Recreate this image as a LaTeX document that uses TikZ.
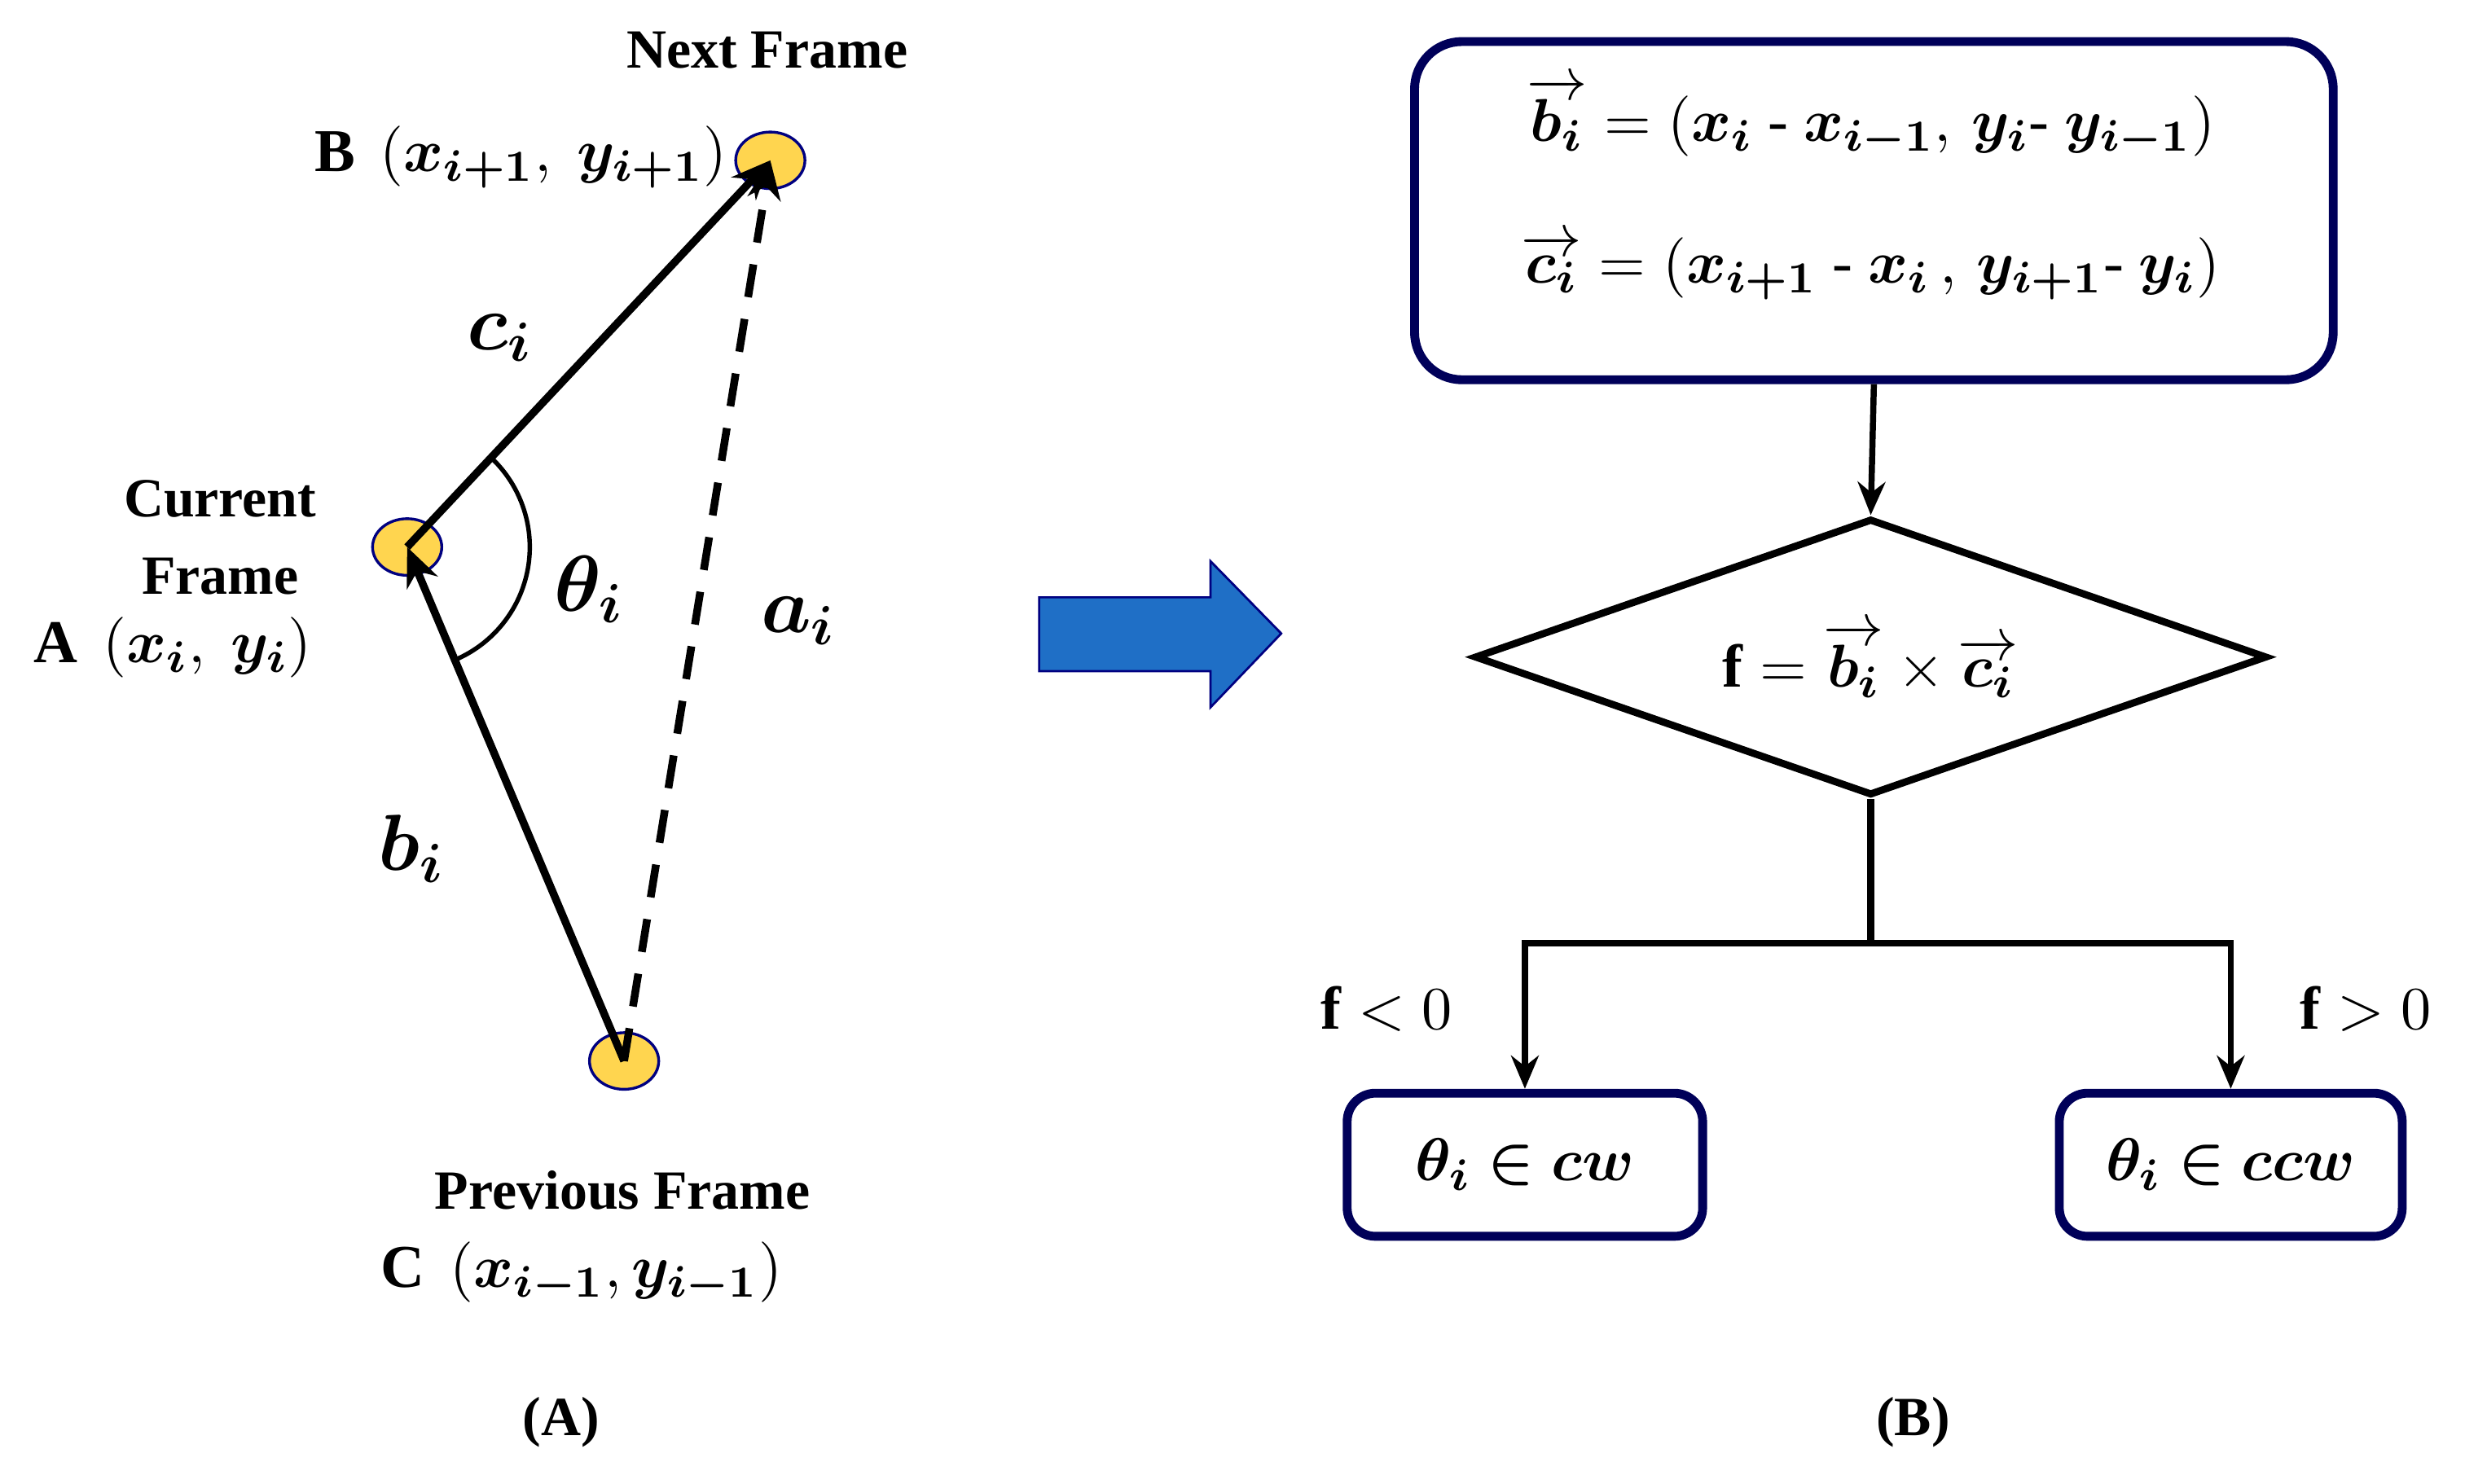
\documentclass[tikz,border=0pt]{standalone}
\usepackage{amsmath,bm}
\usepackage{fontspec}
\setmainfont{Liberation Serif}
\usetikzlibrary{arrows.meta,shapes.geometric}
\definecolor{arrblue}{HTML}{1F6FC6}
\definecolor{ptfill}{HTML}{FFD54F}
\begin{document}
\begin{tikzpicture}[x=0.01cm,y=-0.01cm,
  pt/.style={ellipse,draw=blue!50!black,fill=ptfill,minimum width=0.44cm,minimum height=0.36cm,inner sep=0pt,line width=0.5pt},
  lbl/.style={font=\bfseries\fontsize{10}{12}\selectfont},
  big/.style={font=\fontsize{14}{16}\selectfont},
  vec/.style={line width=1.4pt,-{Stealth[length=7pt,width=6pt]}},
  flow/.style={line width=1.1pt,-{Stealth[length=6pt,width=5pt]}},
  box/.style={draw=blue!35!black,line width=1.6pt,rounded corners=0.3cm},
  bm/.style={font=\fontsize{11}{13}\selectfont}]
\useasboundingbox (0,0) rectangle (1568,944);
\node[pt] (B) at (490,102) {};
\node[pt] (A) at (259,348) {};
\node[pt] (C) at (397,675) {};
\draw[vec] (C.center) -- (A.center);
\draw[vec] (A.center) -- (B.center);
\draw[vec,dash pattern=on 6pt off 4pt] (C.center) -- (B.center);
\draw[line width=0.8pt] (A.center) ++(-46:78) arc[start angle=-46,end angle=67,radius=78];
\node[lbl] (nf) at (488,32) {Next Frame};
\node[lbl,anchor=east,font=\bfseries\fontsize{11}{13}\selectfont] (bl) at (475,100) {B \,$(\bm{x_{i+1}},\ \bm{y_{i+1}})$};
\node[big] (ci) at (318,215) {$\bm{c_i}$};
\node[lbl,align=center] (cf) at (140,342) {Current\\[2pt]Frame};
\node[lbl,font=\bfseries\fontsize{11}{13}\selectfont] (al) at (110,412) {A \,$(\bm{x_i},\ \bm{y_i})$};
\node[big] (th) at (375,375) {$\bm{\theta_i}$};
\node[big] (ai) at (508,395) {$\bm{a_i}$};
\node[big] (bi) at (262,540) {$\bm{b_i}$};
\node[lbl] (pf) at (396,757) {Previous Frame};
\node[lbl,font=\bfseries\fontsize{11}{13}\selectfont] (cl) at (370,810) {C \,$(\bm{x_{i-1}},\bm{y_{i-1}})$};
\node[lbl] (LA) at (357,905) {(A)};
\node[lbl] (LB) at (1217,905) {(B)};
\fill[arrblue,draw=blue!50!black] (661,380) -- (770,380) -- (770,357) -- (815,403) -- (770,450) -- (770,427) -- (661,427) -- cycle;
\node[box,minimum width=5.84cm,minimum height=2.15cm] (top) at (1192,134) {};
\node[bm] (e1) at (1190,75) {$\overrightarrow{\bm{b_i}} = (\bm{x_i}\text{ - }\bm{x_{i-1}},\, \bm{y_i}\text{- }\bm{y_{i-1}})$};
\node[bm] (e2) at (1190,170) {$\overrightarrow{\bm{c_i}} = (\bm{x_{i+1}}\text{ - }\bm{x_i}\,,\, \bm{y_{i+1}}\text{- }\bm{y_i})$};
\node[diamond,draw=black,line width=1.3pt,minimum width=5.04cm,minimum height=1.76cm,inner sep=0pt,aspect=2.86] (d) at (1190,418) {};
\node[bm] (f) at (1190,420) {$\mathbf{f} = \overrightarrow{\bm{b_i}}\times\overrightarrow{\bm{c_i}}$};
\draw[flow] (top.south) -- (d.north);
\coordinate (j) at (1190,600);
\node[box,rounded corners=0.18cm,minimum width=2.26cm,minimum height=0.91cm] (cw) at (970,741) {};
\node[bm] at (970,741) {$\bm{\theta_i\in cw}$};
\node[box,rounded corners=0.18cm,minimum width=2.18cm,minimum height=0.91cm] (ccw) at (1419,741) {};
\node[bm] at (1419,741) {$\bm{\theta_i\in ccw}$};
\draw[line width=1.3pt] (d.south) -- (j);
\draw[flow] (j) -| (cw.north);
\draw[flow] (j) -| (ccw.north);
\node[bm] (fl) at (882,642) {$\mathbf{f} < 0$};
\node[bm] (fg) at (1505,642) {$\mathbf{f} > 0$};
\end{tikzpicture}
\end{document}
